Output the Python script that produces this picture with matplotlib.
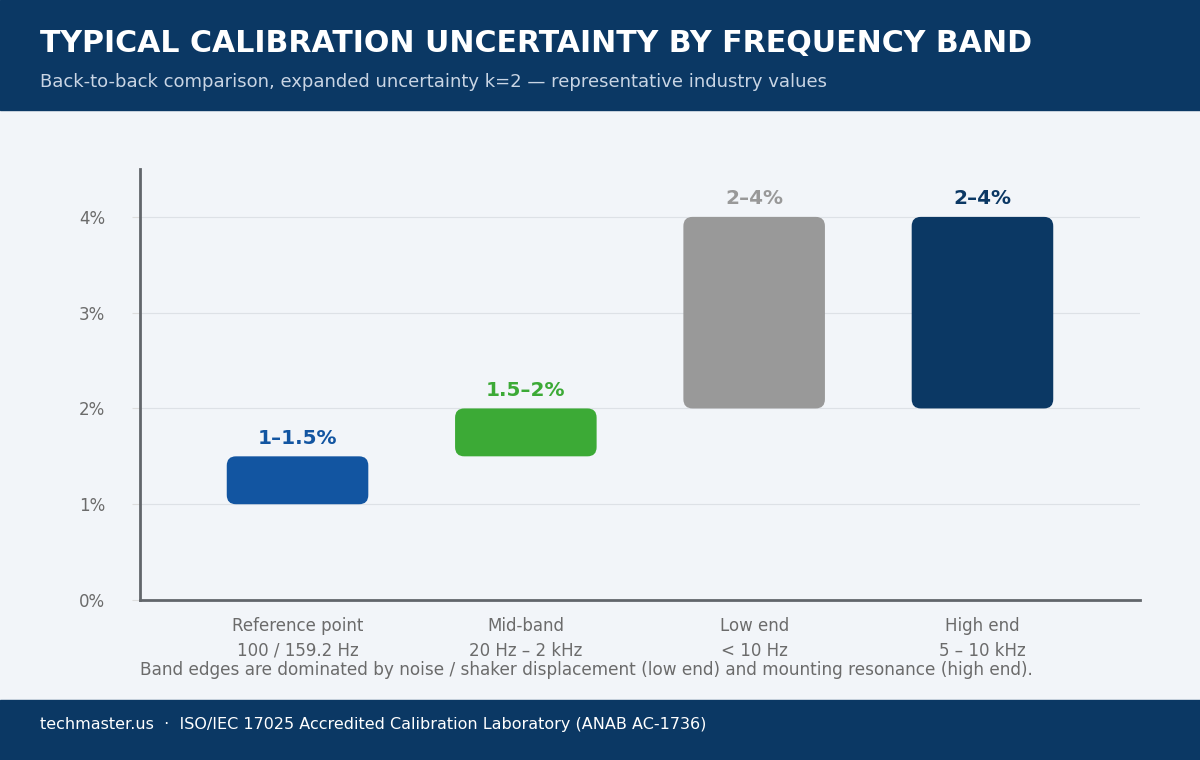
import matplotlib.pyplot as plt
from matplotlib.patches import FancyBboxPatch
from matplotlib.ticker import FuncFormatter

plt.rcParams["font.family"] = ["DejaVu Sans"]

bands = ["Reference point\n100 / 159.2 Hz", "Mid-band\n20 Hz \u2013 2 kHz",
         "Low end\n< 10 Hz", "High end\n5 \u2013 10 kHz"]
low = [1.0, 1.5, 2.0, 2.0]
high = [1.5, 2.0, 4.0, 4.0]
range_labels = ["1\u20131.5%", "1.5\u20132%", "2\u20134%", "2\u20134%"]
colors = ["#1255a1", "#3caa36", "#999999", "#0b3864"]

navy = "#0b3864"
bg = "#f2f5f9"

fig = plt.figure(figsize=(12, 7.6), dpi=100)
fig.patch.set_facecolor(bg)

# header and footer bands
fig.add_artist(plt.Rectangle((0, 1 - 110 / 760), 1, 110 / 760, transform=fig.transFigure,
                             color=navy, zorder=0))
fig.add_artist(plt.Rectangle((0, 0), 1, 60 / 760, transform=fig.transFigure,
                             color=navy, zorder=0))
fig.text(40 / 1200, 1 - 44 / 760, "TYPICAL CALIBRATION UNCERTAINTY BY FREQUENCY BAND",
         color="white", fontsize=21.6, fontweight="bold", va="center", ha="left")
fig.text(40 / 1200, 1 - 82 / 760,
         "Back-to-back comparison, expanded uncertainty k=2 \u2014 representative industry values",
         color="#c9d5e4", fontsize=13, va="center", ha="left")
fig.text(40 / 1200, 35 / 760,
         "techmaster.us  \u00b7  ISO/IEC 17025 Accredited Calibration Laboratory (ANAB AC-1736)",
         color="white", fontsize=11.5, va="center", ha="left")

ax = fig.add_axes([140 / 1200, 160 / 760, 1000 / 1200, 431 / 760])
ax.set_facecolor(bg)

x = list(range(len(bands)))
heights = [h - l for h, l in zip(high, low)]
bars = ax.bar(x, heights, bottom=low, width=0.62, color=colors, zorder=3)

# swap plain bars for rounded ones
for b, c in zip(bars, colors):
    fb = FancyBboxPatch((b.get_x(), b.get_y()), b.get_width(), b.get_height(),
                        boxstyle="round,pad=0,rounding_size=0.04",
                        mutation_aspect=2.4, facecolor=c, edgecolor="none", zorder=3)
    ax.add_patch(fb)
    b.remove()

for xi, top, lab, c in zip(x, high, range_labels, colors):
    ax.text(xi, top + 0.09, lab, ha="center", va="bottom", color=c,
            fontsize=14.4, fontweight="bold")

ax.set_xlim(-0.69, 3.69)
ax.set_ylim(0, 4.5)
ax.set_yticks([0, 1, 2, 3, 4])
ax.yaxis.set_major_formatter(FuncFormatter(lambda v, p: f"{v:.0f}%"))
ax.set_xticks(x)
ax.set_xticklabels(bands, linespacing=1.5)
ax.tick_params(axis="x", length=0, colors="#6b6b6b", labelsize=12, pad=12)
ax.tick_params(axis="y", length=6, color="#dddddd", colors="#6b6b6b", labelsize=12, pad=19)
ax.grid(axis="y", color="#dde1e6", linewidth=0.8, zorder=0)

for s in ["top", "right"]:
    ax.spines[s].set_visible(False)
for s in ["left", "bottom"]:
    ax.spines[s].set_color("#62666b")
    ax.spines[s].set_linewidth(2)

fig.text(140 / 1200, 1 - 670 / 760,
         "Band edges are dominated by noise / shaker displacement (low end) and mounting resonance (high end).",
         color="#6b6b6b", fontsize=12.2, va="center", ha="left")

fig.savefig("out.png", dpi=100, facecolor=fig.get_facecolor())
